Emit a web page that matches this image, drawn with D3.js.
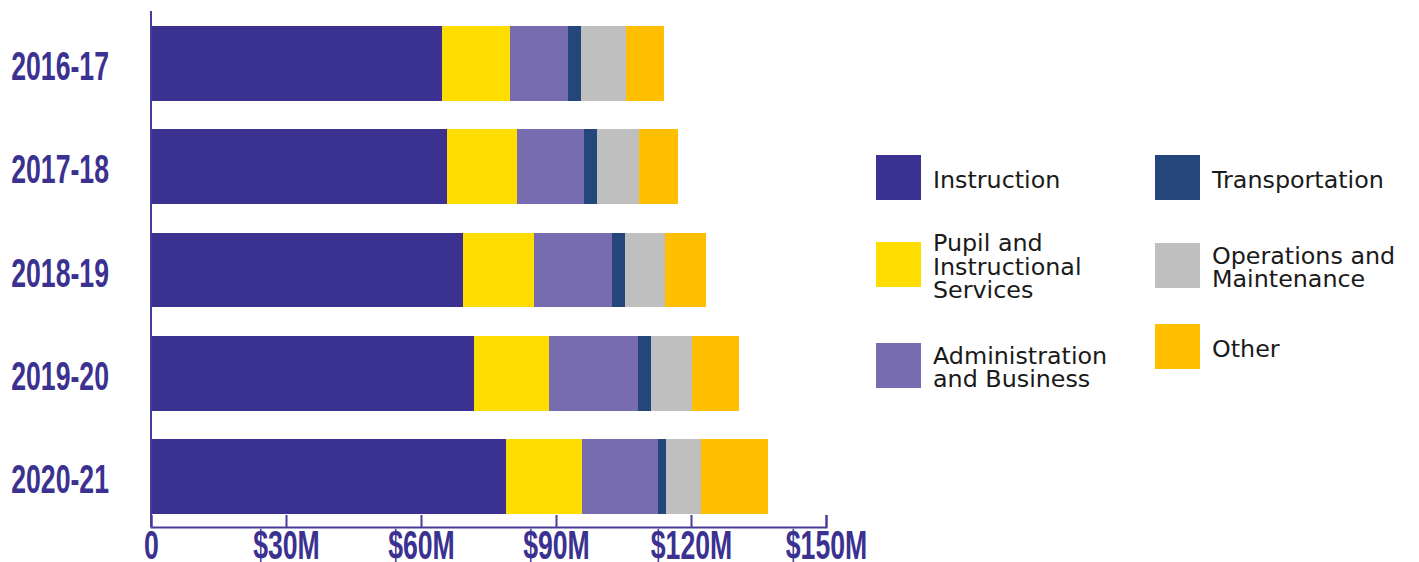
<!DOCTYPE html>
<html>
<head>
<meta charset="utf-8">
<script src="https://cdn.jsdelivr.net/npm/d3@7"></script>
<style>
  html, body { margin: 0; padding: 0; background: #fff; }
  svg { display: block; }
</style>
</head>
<body>
<svg id="chart" width="1419" height="562"></svg>
<script>
// School-year expenditure by function, in millions of dollars
const years = ["2016-17", "2017-18", "2018-19", "2019-20", "2020-21"];
const instruction    = [64.7, 65.8, 69.3, 71.8, 78.9];
const pupilServices  = [15.1, 15.6, 15.8, 16.7, 16.9];
const administration = [12.9, 14.9, 17.3, 19.8, 16.9];
const transportation = [2.9, 2.9, 2.9, 2.7, 1.8];
const operations     = [9.9, 9.3, 9.0, 9.3, 7.8];
const other          = [8.5, 8.7, 9.0, 10.4, 14.7];

const seriesKeys  = ["instruction", "pupil", "admin", "transport", "ops", "other"];
const seriesNames = [
  ["Instruction"],
  ["Pupil and", "Instructional", "Services"],
  ["Administration", "and Business"],
  ["Transportation"],
  ["Operations and", "Maintenance"],
  ["Other"]
];
const seriesColors = ["#3b3190", "#ffdd00", "#776cb0", "#25467a", "#bfbfbf", "#ffbe00"];
const xTicks = [0, 30, 60, 90, 120, 150];

const rows = years.map((yr, i) => ({
  year: yr,
  instruction: instruction[i],
  pupil: pupilServices[i],
  admin: administration[i],
  transport: transportation[i],
  ops: operations[i],
  other: other[i]
}));

const svg = d3.select("#chart");
const axisColor = "#463c9c";
const labelColor = "#3b3190";
// tall, condensed axis lettering
const condensedFont = "'Liberation Sans', Arial, sans-serif";
const condense = 0.65;

const x = d3.scaleLinear().domain([0, 150]).range([151, 826]);
const y = d3.scaleBand().domain(years).range([12, 528]).paddingInner(0.274).paddingOuter(0.137);
const axisY = 527;

const color = d3.scaleOrdinal().domain(seriesKeys).range(seriesColors);
const stacked = d3.stack().keys(seriesKeys)(rows);

// stacked bars
svg.append("g")
  .selectAll("g")
  .data(stacked)
  .join("g")
    .attr("fill", d => color(d.key))
  .selectAll("rect")
  .data(d => d)
  .join("rect")
    .attr("x", d => x(d[0]))
    .attr("y", d => y(d.data.year))
    .attr("width", d => x(d[1]) - x(d[0]))
    .attr("height", y.bandwidth())
    .attr("shape-rendering", "crispEdges");

// category axis
const yAxis = svg.append("g")
  .attr("transform", `translate(${x(0)},0)`)
  .call(d3.axisLeft(y).tickSize(0).tickPadding(0));
yAxis.select(".domain").remove();
yAxis.selectAll("text")
  .attr("x", 0)
  .attr("dy", null)
  .attr("y", 16.5)
  .attr("transform", `translate(-42,0) scale(${condense},1)`)
  .attr("fill", labelColor)
  .style("font-family", condensedFont)
  .style("font-weight", "bold")
  .style("font-size", "41px");

svg.append("line")
  .attr("x1", x(0)).attr("x2", x(0))
  .attr("y1", 11).attr("y2", axisY)
  .attr("stroke", axisColor)
  .attr("stroke-width", 2);

// value axis
const xAxis = svg.append("g")
  .attr("transform", `translate(0,${axisY})`)
  .call(d3.axisBottom(x)
    .tickValues(xTicks)
    .tickSizeInner(-12)
    .tickSizeOuter(-12)
    .tickFormat(v => v === 0 ? "0" : `$${v}M`));
xAxis.select(".domain").attr("stroke", axisColor).attr("stroke-width", 2);
xAxis.selectAll(".tick line").attr("stroke", axisColor).attr("stroke-width", 2);
xAxis.selectAll("text")
  .attr("y", 32)
  .attr("dy", null)
  .attr("transform", `scale(${condense},1)`)
  .attr("fill", labelColor)
  .style("font-family", condensedFont)
  .style("font-weight", "bold")
  .style("font-size", "41px");

// legend, two columns
const legendCols = [876, 1155];
const legendCenters = [[177.5, 264.5, 365.5], [177.5, 265.5, 346.5]];
const swatch = 45;
const lineHeight = 23.5;

const legend = svg.append("g")
  .style("font-family", "'DejaVu Sans', sans-serif")
  .style("font-size", "23.8px")
  .attr("fill", "#1a1a1a");

seriesKeys.forEach((key, i) => {
  const col = Math.floor(i / 3);
  const row = i % 3;
  const cx = legendCols[col];
  const cy = legendCenters[col][row];
  const item = legend.append("g");
  item.append("rect")
    .attr("x", cx)
    .attr("y", cy - swatch / 2)
    .attr("width", swatch)
    .attr("height", swatch)
    .attr("fill", color(key));
  const lines = seriesNames[i];
  item.append("text")
    .selectAll("tspan")
    .data(lines)
    .join("tspan")
      .attr("x", cx + swatch + 12)
      .attr("y", (d, j) => cy + 10 + (j - (lines.length - 1) / 2) * lineHeight)
      .text(d => d);
});
</script>
</body>
</html>
